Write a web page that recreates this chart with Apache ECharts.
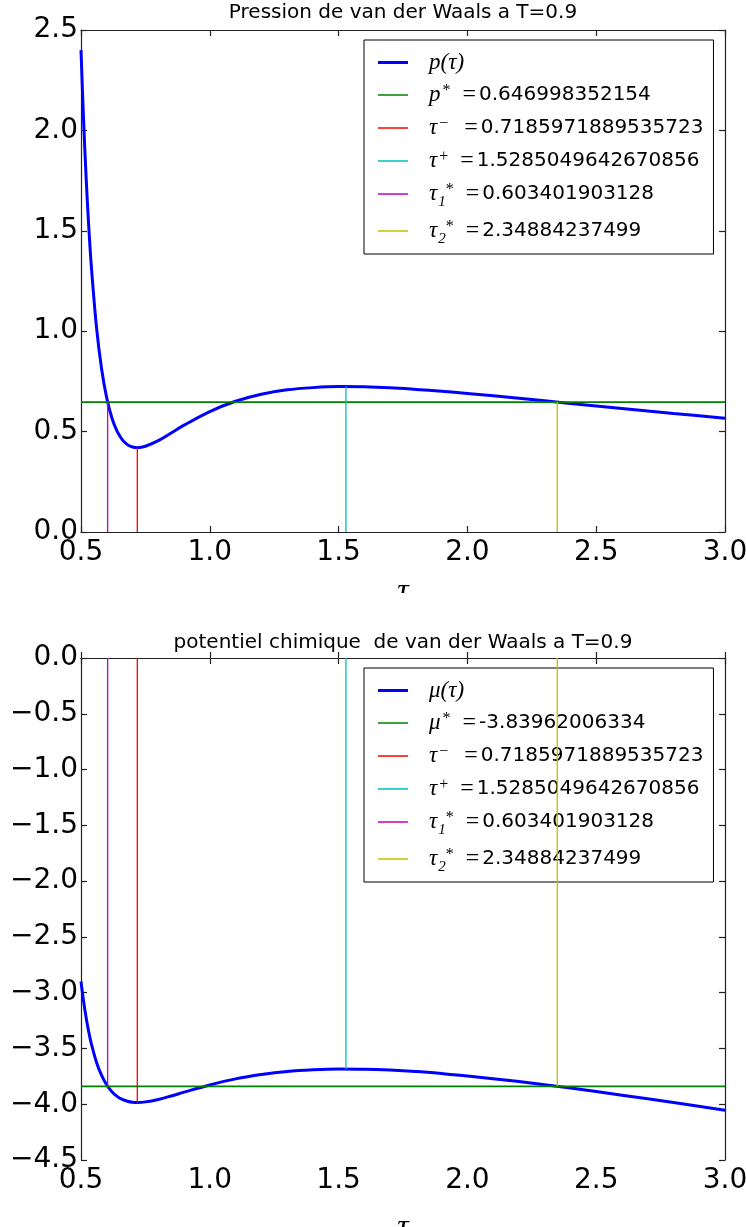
<!DOCTYPE html>
<html>
<head>
<meta charset="utf-8">
<script src="https://cdn.jsdelivr.net/npm/echarts@6/dist/echarts.min.js"></script>
<style>
html,body{margin:0;padding:0;background:#fff;}
#main{width:746px;height:1227px;}
</style>
</head>
<body>
<div id="main"></div>
<script>
// ---- data ----
const tau      = [0.50, 0.51, 0.52, 0.53, 0.54, 0.56, 0.58, 0.60, 0.62, 0.64, 0.66, 0.68, 0.70, 0.72, 0.75, 0.80, 0.85, 0.90, 1.00, 1.10, 1.20, 1.30, 1.40, 1.50, 1.60, 1.70, 1.80, 1.90, 2.00, 2.20, 2.40, 2.60, 2.80, 3.00];
const pressure = [2.400, 2.051, 1.762, 1.523, 1.325, 1.022, 0.812, 0.667, 0.568, 0.502, 0.460, 0.435, 0.423, 0.420, 0.427, 0.455, 0.493, 0.532, 0.600, 0.651, 0.686, 0.708, 0.719, 0.724, 0.723, 0.718, 0.710, 0.701, 0.690, 0.666, 0.640, 0.615, 0.590, 0.567];
const chemPot  = [-2.900, -3.076, -3.225, -3.350, -3.456, -3.623, -3.742, -3.828, -3.888, -3.930, -3.957, -3.973, -3.982, -3.984, -3.979, -3.957, -3.926, -3.892, -3.827, -3.773, -3.734, -3.706, -3.691, -3.684, -3.686, -3.694, -3.707, -3.725, -3.746, -3.797, -3.855, -3.919, -3.985, -4.054];

const pStar    = 0.646998352154;
const muStar   = -3.83962006334;
const tauMinus = 0.7185971889535723;
const tauPlus  = 1.5285049642670856;
const tau1Star = 0.603401903128;
const tau2Star = 2.34884237499;

// curve values at the marked abscissae (tau-, tau+, tau1*, tau2*)
const markTau  = [tauMinus, tauPlus, tau1Star, tau2Star];
const pAtMark  = [0.4198, 0.7240, pStar, pStar];
const muAtMark = [-3.9839, -3.6840, muStar, muStar];

const xMin = 0.5, xMax = 3.0, xStep = 0.5;
const pMin = 0.0, pMax = 2.5, pStep = 0.5;
const muMin = -4.5, muMax = 0.0, muStep = 0.5;

// ---- styling ----
const C = {blue:'#0000ff', green:'#008000', red:'#ff0000', cyan:'#00bfbf', magenta:'#bf00bf', yellow:'#bfbf00'};
const markColors = [C.red, C.cyan, C.magenta, C.yellow];

const N = {
  p: 'p(τ)', ps: 'p* =' + pStar, mu: 'μ(τ)', ms: 'μ* =' + muStar,
  tm: 'τ⁻ =' + tauMinus, tp: 'τ⁺ =' + tauPlus, t1: 'τ₁* =' + tau1Star, t2: 'τ₂* =' + tau2Star
};
const labelMap = {};
labelMap[N.p]  = '{sp|}{m|p(τ)}';
labelMap[N.mu] = '{sp|}{m|μ(τ)}';
labelMap[N.ps] = '{sp|}{m|p}{sup|*}{eq|=}{n|' + String(pStar) + '}';
labelMap[N.ms] = '{sp|}{m|μ}{sup|*}{eq|=}{n|' + String(muStar) + '}';
labelMap[N.tm] = '{sp|}{m|τ}{sup|−}{eqw|=}{n|' + String(tauMinus) + '}';
labelMap[N.tp] = '{sp|}{m|τ}{sup|+}{eq|=}{n|' + String(tauPlus) + '}';
labelMap[N.t1] = '{sp|}{m|τ}{sub|1}{sup2|*}{eq|=}{n|' + String(tau1Star) + '}';
labelMap[N.t2] = '{sp|}{m|τ}{sub|2}{sup2|*}{eq|=}{n|' + String(tau2Star) + '}';

const rich = {
  sp:  {width: 16},
  m:   {fontFamily: 'Liberation Serif', fontStyle: 'italic', fontSize: 23, lineHeight: 24, color: '#000'},
  eq:  {fontFamily: 'Liberation Serif', fontSize: 24, lineHeight: 24, padding:[0,3,0,12], color: '#000'},
  eqw: {fontFamily: 'Liberation Serif', fontSize: 24, lineHeight: 24, padding:[0,3,0,16], color: '#000'},
  n:   {fontFamily: 'DejaVu Sans', fontSize: 20, lineHeight: 24, color: '#000'},
  sup: {fontFamily: 'Liberation Serif', fontSize: 16, lineHeight: 14, verticalAlign: 'top', padding:[0,0,0,2], color: '#000'},
  sup2:{fontFamily: 'Liberation Serif', fontSize: 16, lineHeight: 14, verticalAlign: 'top', padding:[0,0,0,0], color: '#000'},
  sub: {fontFamily: 'Liberation Serif', fontStyle: 'italic', fontSize: 15, lineHeight: 14, verticalAlign: 'bottom', padding:[0,0,-4,1], color: '#000'}
};

const thick = 'path://M0 0H30V3H0Z';
const thin  = 'path://M0 0H30V1.5H0Z';

const tickFmt = v => v.toFixed(1).replace('-', '\u2212');
const axisLineStyle = {color: '#222', width: 1.2};

function xAxes(gridIndex) {
  return [
    {type:'value', gridIndex, min:xMin, max:xMax, interval:xStep, position:'bottom',
     name:'τ', nameLocation:'middle', nameGap: gridIndex === 0 ? 44 : 52,
     nameTextStyle:{fontFamily:'Liberation Serif', fontStyle:'italic', fontSize:32, color:'#000'},
     axisLine:{show:true, lineStyle:axisLineStyle}, axisTick:{show:true, inside:true, length:6, lineStyle:axisLineStyle},
     axisLabel:{formatter:tickFmt, margin:7, fontFamily:'DejaVu Sans', fontSize:28, color:'#000'},
     splitLine:{show:false}},
    {type:'value', gridIndex, min:xMin, max:xMax, interval:xStep, position:'top',
     axisLine:{show:true, onZero:false, lineStyle:axisLineStyle}, axisTick:{show:true, inside:true, length:6, lineStyle:axisLineStyle},
     axisLabel:{show:false}, splitLine:{show:false}}
  ];
}
function yAxes(gridIndex, min, max, step) {
  return [
    {type:'value', gridIndex, min, max, interval:step, position:'left',
     axisLine:{show:true, onZero:false, lineStyle:axisLineStyle}, axisTick:{show:true, inside:true, length:6, lineStyle:axisLineStyle},
     axisLabel:{formatter:tickFmt, margin:3, fontFamily:'DejaVu Sans', fontSize:28, color:'#000'},
     splitLine:{show:false}},
    {type:'value', gridIndex, min, max, interval:step, position:'right',
     axisLine:{show:true, onZero:false, lineStyle:axisLineStyle}, axisTick:{show:true, inside:true, length:6, lineStyle:axisLineStyle},
     axisLabel:{show:false}, splitLine:{show:false}}
  ];
}

function curve(name, ys, xi, yi) {
  return {type:'line', name, xAxisIndex:xi, yAxisIndex:yi, data: tau.map((t,i)=>[t, ys[i]]),
    showSymbol:false, smooth:0.35, color:C.blue, lineStyle:{width:3, color:C.blue}, z:2, silent:true};
}
function hline(name, y, xi, yi) {
  return {type:'line', name, xAxisIndex:xi, yAxisIndex:yi, data:[[xMin, y],[xMax, y]],
    showSymbol:false, color:C.green, lineStyle:{width:1.8, color:C.green}, z:3, silent:true};
}
function vline(name, k, base, vals, xi, yi) {
  return {type:'line', name, xAxisIndex:xi, yAxisIndex:yi, data:[[markTau[k], base],[markTau[k], vals[k]]],
    showSymbol:false, color:markColors[k], lineStyle:{width:1.3, color:markColors[k]}, z:4, silent:true};
}

const legendCommon = {
  orient:'vertical', left:364, padding:[11, 10, 7, 14], itemGap:9, itemWidth:30, itemHeight:14,
  borderColor:'#000', borderWidth:1, backgroundColor:'#fff', selectedMode:false,
  formatter: name => labelMap[name], textStyle:{rich}
};

const option = {
  animation:false,
  backgroundColor:'#fff',
  title:[
    {text:'Pression de van der Waals a T=0.9', left:403, top:3, textAlign:'center', padding:0,
     textStyle:{fontFamily:'DejaVu Sans', fontWeight:'normal', fontSize:20, color:'#000'}},
    {text:'potentiel chimique  de van der Waals a T=0.9', left:403, top:633, textAlign:'center', padding:0,
     textStyle:{fontFamily:'DejaVu Sans', fontWeight:'normal', fontSize:20, color:'#000'}}
  ],
  grid:[
    {left:81, top:30, width:644, height:502, outerBoundsMode:'none', containLabel:false},
    {left:81, top:658, width:644, height:502, outerBoundsMode:'none', containLabel:false}
  ],
  xAxis:[...xAxes(0), ...xAxes(1)],
  yAxis:[...yAxes(0, pMin, pMax, pStep), ...yAxes(1, muMin, muMax, muStep)],
  legend:[
    Object.assign({}, legendCommon, {top:40, data:[
      {name:N.p, icon:thick}, {name:N.ps, icon:thin}, {name:N.tm, icon:thin},
      {name:N.tp, icon:thin}, {name:N.t1, icon:thin}, {name:N.t2, icon:thin}]}),
    Object.assign({}, legendCommon, {top:668, data:[
      {name:N.mu, icon:thick}, {name:N.ms, icon:thin}, {name:N.tm, icon:thin},
      {name:N.tp, icon:thin}, {name:N.t1, icon:thin}, {name:N.t2, icon:thin}]})
  ],
  graphic:[
    {type:'rect', z:100, shape:{x:0, y:593, width:746, height:36}, style:{fill:'#fff'}}
  ],
  series:[
    curve(N.p, pressure, 0, 0),
    hline(N.ps, pStar, 0, 0),
    vline(N.tm, 0, pMin, pAtMark, 0, 0),
    vline(N.tp, 1, pMin, pAtMark, 0, 0),
    vline(N.t1, 2, pMin, pAtMark, 0, 0),
    vline(N.t2, 3, pMin, pAtMark, 0, 0),
    curve(N.mu, chemPot, 2, 2),
    hline(N.ms, muStar, 2, 2),
    vline(N.tm, 0, muMax, muAtMark, 2, 2),
    vline(N.tp, 1, muMax, muAtMark, 2, 2),
    vline(N.t1, 2, muMax, muAtMark, 2, 2),
    vline(N.t2, 3, muMax, muAtMark, 2, 2)
  ]
};

const chart = echarts.init(document.getElementById('main'), null, {renderer:'canvas'});
chart.setOption(option);
</script>
</body>
</html>
